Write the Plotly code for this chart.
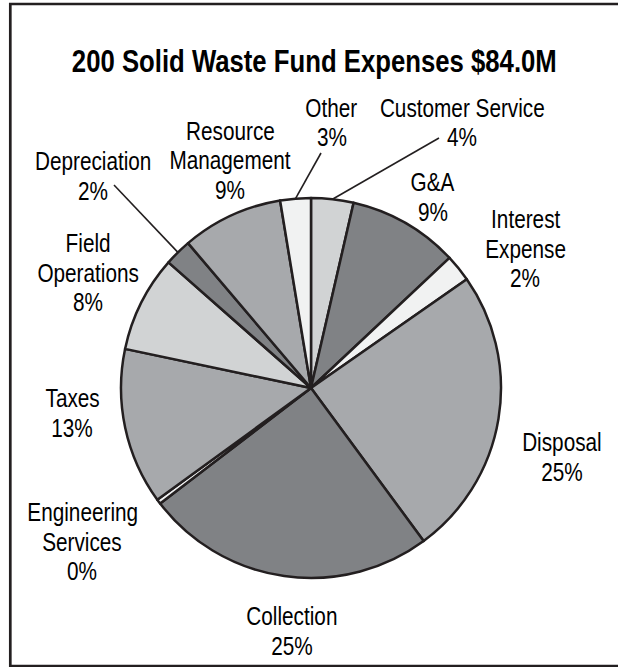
import math
import plotly.graph_objects as go

# Solid Waste Fund expense categories, clockwise from 12 o'clock
categories = [
    "Customer Service", "G&A", "Interest Expense", "Disposal", "Collection",
    "Engineering Services", "Taxes", "Field Operations", "Depreciation",
    "Resource Management", "Other",
]
# Share of total expenses, percent
share_pct = [3.6, 9.4, 2.3, 24.6, 24.7, 0.4, 13.3, 8.2, 2.3, 8.6, 2.6]
slice_colors = [
    "#d1d3d4", "#808285", "#f1f2f2", "#a7a9ac", "#808285",
    "#f1f2f2", "#a7a9ac", "#d1d3d4", "#808285", "#a7a9ac", "#f1f2f2",
]
title_text = "200 Solid Waste Fund Expenses $84.0M"

# How each category name is broken over lines in its label
label_lines = {
    "Interest Expense": ["Interest", "Expense"],
    "Field Operations": ["Field", "Operations"],
    "Resource Management": ["Resource", "Management"],
    "Engineering Services": ["Engineering", "Services"],
}
# Label anchor (center x, first-line y) in pixels
label_pos = {
    "Customer Service": (462, 108),
    "G&A": (433, 182),
    "Interest Expense": (525, 219),
    "Disposal": (562, 442),
    "Collection": (292, 616),
    "Engineering Services": (82, 512),
    "Taxes": (72, 398),
    "Field Operations": (88, 243),
    "Depreciation": (93, 161),
    "Resource Management": (230, 131),
    "Other": (332, 108),
}
# Leader lines: label-side end point in pixels
leader_start = {
    "Other": (321, 153),
    "Customer Service": (439, 138),
    "Depreciation": (114, 185),
}

W, H = 618, 667
INK = "#231f20"
FONT = "Liberation Sans, Arial, sans-serif"
LINE_STEP = 29.5
NARROW = 0.83  # horizontal squeeze for a condensed Helvetica look

# Pie placement (pixels)
cx, cy, r = 311, 388, 190
dom_x = [(cx - r) / W, (cx + r) / W]
dom_y = [1 - (cy + r) / H, 1 - (cy - r) / H]


def px(x):
    return x / W


def py(y):
    return 1 - y / H


fig = go.Figure(
    go.Pie(
        labels=categories,
        values=share_pct,
        sort=False,
        direction="clockwise",
        rotation=0,
        marker=dict(colors=slice_colors, line=dict(color=INK, width=2.5)),
        textinfo="none",
        hoverinfo="label+percent",
        domain=dict(x=dom_x, y=dom_y),
        showlegend=False,
    )
)

annotations = [
    dict(
        text=f"<b>{title_text}</b>", x=px(314), y=py(61), xref="paper", yref="paper",
        xanchor="center", yanchor="middle", showarrow=False,
        font=dict(family=FONT, size=31, color="#000000"),
    )
]

total = sum(share_pct)
cum = 0.0
shapes = []
for name, v in zip(categories, share_pct):
    pct_text = f"{round(v / total * 100):d}%"
    lines = label_lines.get(name, [name]) + [pct_text]
    x0, y0 = label_pos[name]
    for k, line in enumerate(lines):
        annotations.append(
            dict(
                text=line, x=px(x0), y=py(y0 + k * LINE_STEP), xref="paper", yref="paper",
                xanchor="center", yanchor="middle", showarrow=False,
                font=dict(family=FONT, size=25, color="#000000"),
            )
        )
    if name in leader_start:
        mid = (cum + v / 2) / total * 2 * math.pi
        ex = cx + r * math.sin(mid)
        ey = cy - r * math.cos(mid)
        sx, sy = leader_start[name]
        shapes.append(
            dict(type="line", xref="paper", yref="paper",
                 x0=px(sx), y0=py(sy), x1=px(ex), y1=py(ey),
                 line=dict(color=INK, width=1.6))
        )
    cum += v

# Outer frame (right edge runs past the page)
shapes.append(
    dict(type="rect", xref="paper", yref="paper",
         x0=px(10.3), y0=py(666), x1=px(640), y1=py(4),
         line=dict(color=INK, width=2.7), fillcolor="rgba(0,0,0,0)")
)

fig.update_layout(
    width=W, height=H,
    margin=dict(l=0, r=0, t=0, b=0),
    paper_bgcolor="#ffffff",
    plot_bgcolor="#ffffff",
    annotations=annotations,
    shapes=shapes,
)

# Squeeze annotation text horizontally about its own centre
squeeze_js = """
var gd = document.getElementById('{plot_id}');
gd.querySelectorAll('text.annotation-text').forEach(function (t) {
  var b = t.getBBox();
  var c = b.x + b.width / 2;
  t.setAttribute('transform',
    'translate(' + c + ',0) scale(%s,1) translate(' + (-c) + ',0)');
});
""" % NARROW

fig.write_html("out.html", post_script=squeeze_js)
